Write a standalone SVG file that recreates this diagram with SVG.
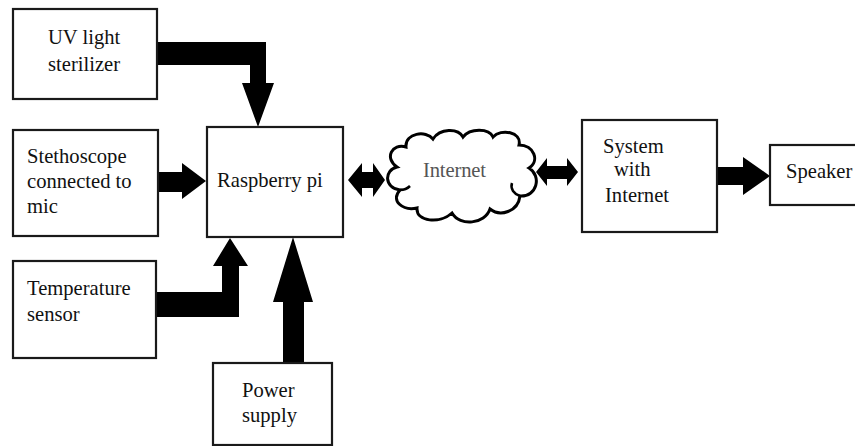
<svg xmlns="http://www.w3.org/2000/svg" width="855" height="446" viewBox="0 0 855 446">
<style>
.box{fill:#fff;stroke:#1a1a1a;stroke-width:2.2}
.t{font-family:'Liberation Serif','DejaVu Serif','Times New Roman',serif;font-size:20.6px;fill:#111}
.arr{fill:#000}
</style>
<rect width="855" height="446" fill="#fff"/>
<g id="connectors">
<path class="arr" d="M157,42 H266 V83 H274 L258,127 L242,83 H250 V65 H157 Z"/>
<path class="arr" d="M158,172 H182 V163 L206,181 L182,199 V192 H158 Z"/>
<path class="arr" d="M156,292 H222 V266 H213 L230,238 L248,266 H239 V317 H156 Z"/>
<path class="arr" d="M283,363 V302 H273 L293,237 L313,302 H304 V363 Z"/>
<path class="arr" d="M348,180 L362,163 V172 H373 V163 L385,180 L373,197 V188 H362 V197 Z"/>
<path class="arr" d="M536,172 L547,158 V166 H567 V158 L578,172 L567,186 V179 H547 V186 Z"/>
<path class="arr" d="M717,167 H743 V157 L770,176 L743,195 V185 H717 Z"/>
</g>
<g id="uv">
<rect class="box" x="13" y="9" width="144" height="90"/>
<text class="t" x="48" y="44">UV light</text>
<text class="t" x="48" y="71">sterilizer</text>
</g>
<g id="stethoscope">
<rect class="box" x="13" y="130" width="145" height="106"/>
<text class="t" x="27" y="163">Stethoscope</text>
<text class="t" x="27" y="188">connected to</text>
<text class="t" x="27" y="213">mic</text>
</g>
<g id="temperature">
<rect class="box" x="13" y="261" width="143" height="97"/>
<text class="t" x="27" y="295">Temperature</text>
<text class="t" x="27" y="321">sensor</text>
</g>
<g id="raspberry">
<rect class="box" x="207" y="127" width="136" height="110"/>
<text class="t" x="217" y="187">Raspberry pi</text>
</g>
<g id="power">
<rect class="box" x="213" y="363" width="119" height="82"/>
<text class="t" x="242" y="397">Power</text>
<text class="t" x="242" y="422">supply</text>
</g>
<g id="internet">
<path d="M400,190 C384,188 384,170 397,167 C384,158 392,143 406,147 C405,133 426,130 433,139 C440,128 458,128 463,137 C470,128 489,128 493,137 C501,128 522,132 519,145 C534,145 540,161 529,168 C542,176 537,197 520,196 C518,212 500,217 490,209 C485,224 460,227 452,213 C440,224 416,222 417,208 C403,211 390,201 400,190 Z" fill="#fff" stroke="#000" stroke-width="3"/>
<path d="M520,196 C514,194 510,189 512,183" fill="none" stroke="#000" stroke-width="2.5"/>
<path d="M400,190 C404,190 408,188 410,186" fill="none" stroke="#000" stroke-width="2.5"/>
<text class="t" x="423" y="177" style="fill:#555" textLength="63">Internet</text>
</g>
<g id="system">
<rect class="box" x="582" y="120" width="135" height="112"/>
<text class="t" x="603" y="153">System</text>
<text class="t" x="614" y="176">with</text>
<text class="t" x="605" y="202">Internet</text>
</g>
<g id="speaker">
<rect class="box" x="770" y="145" width="95" height="60"/>
<text class="t" x="786" y="178">Speaker</text>
</g>
</svg>
